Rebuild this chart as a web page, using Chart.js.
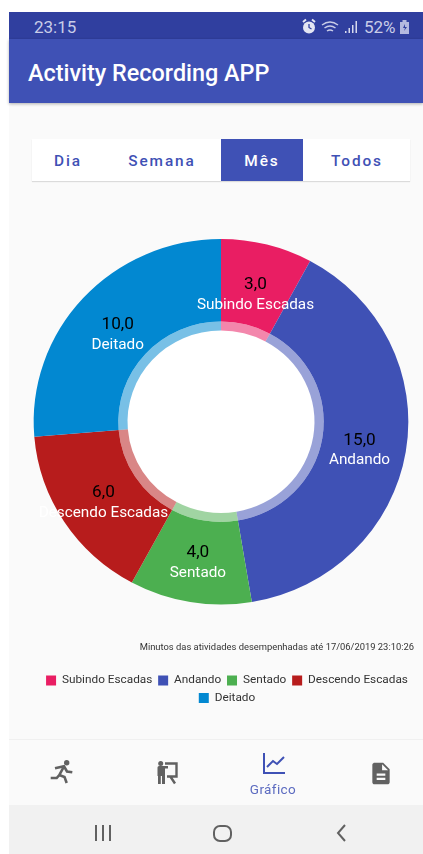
<!DOCTYPE html>
<html lang="pt">
  <head>
    <meta charset="UTF-8" />
    <title>Activity Recording APP</title>
    <script src="https://cdn.jsdelivr.net/npm/chart.js@4/dist/chart.umd.min.js"></script>
    <style>
      * { box-sizing: border-box; }
      html, body { margin: 0; height: 100%; background: #fff; overflow: hidden; font-family: Roboto, sans-serif; }
      .abs { position: absolute; }
      #frame { position: absolute; left: 9px; top: 12px; width: 414px; height: 842px; background: #fafafa; }
      #status { left: 9px; top: 12px; width: 414px; height: 27px; background: #303f9f; }
      #appbar { left: 9px; top: 39px; width: 414px; height: 64px; background: #3f51b5; box-shadow: 0 1px 3px rgba(0,0,0,.3); }
      #apptitle { left: 28px; top: 58px; color: #fff; font-size: 23.4px; font-weight: 500; line-height: 30px; white-space: nowrap; }
      .stat { top: 16px; color: #c9cde8; font-size: 17px; line-height: 22px; white-space: nowrap; }
      #tabs { left: 32px; top: 139px; width: 378px; height: 42px; background: #fff; box-shadow: 0 1px 1px rgba(0,0,0,.12); }
      #tabsel { left: 221px; top: 139px; width: 82px; height: 42px; background: #3f51b5; }
      .tab { top: 151px; width: 90px; text-align: center; color: #3f51b5; font-size: 15.4px; font-weight: 500; letter-spacing: 1.9px; line-height: 20px; }
      #chart { position: absolute; left: 9px; top: 239px; }
      #bottomnav { left: 9px; top: 739px; width: 414px; height: 66px; background: #fafafa; border-top: 1px solid #f0f0f0; }
      #grafico { left: 233px; top: 780px; width: 80px; text-align: center; color: #5c6bc0; font-size: 13.5px; letter-spacing: .4px; line-height: 18px; }
      #sysnav { left: 9px; top: 805px; width: 414px; height: 49px; background: #f1f1f1; }
      svg { position: absolute; overflow: visible; }
    </style>
  </head>
  <body>
    <div id="frame"></div>
    <div class="abs" id="status"></div>
    <div class="abs" id="appbar"></div>
    <div class="abs" id="apptitle">Activity Recording APP</div>
    <div class="abs stat" style="left:34px">23:15</div>
    <div class="abs stat" style="left:364px">52%</div>

    <!-- status bar icons -->
    <svg style="left:300px;top:18px" width="64" height="18" viewBox="0 0 64 18">
      <circle cx="9" cy="9.500" r="6" fill="#e3e5f3"/>
      <path d="M3 4l3-2.500M15 4l-3-2.500" stroke="#e3e5f3" stroke-width="2"/>
      <path d="M9 6v3.500l2.500 1.500" stroke="#303f9f" stroke-width="1.300" fill="none"/>
      <path d="M22 7q8-6 16 0M24.500 10q5.500-4 11 0M27 13q3-2 6 0" stroke="#c9cde8" stroke-width="1.500" fill="none"/>
      <path d="M45 13h1.500v2H45zM48.500 10H50v5h-1.500zM52 7h1.500v8H52zM55.500 3H57v12h-1.500z" fill="#d7daee"/>
    </svg>
    <svg style="left:399px;top:20px" width="11" height="15" viewBox="0 0 11 15">
      <rect x="3.500" y="0" width="4" height="2" fill="#b4b9df"/>
      <rect x="1" y="2" width="9" height="12" fill="#b4b9df"/>
      <path d="M6 4L4 8h2l-1 3 3-4H6z" fill="#303f9f"/>
    </svg>

    <div class="abs" id="tabs"></div>
    <div class="abs" id="tabsel"></div>
    <div class="abs tab" style="left:23px">Dia</div>
    <div class="abs tab" style="left:117px">Semana</div>
    <div class="abs tab" style="left:217px;color:#fff">Mês</div>
    <div class="abs tab" style="left:312px">Todos</div>

    <canvas id="chart" width="414" height="475" style="width:414px;height:475px"></canvas>

    <div class="abs" id="bottomnav"></div>
    <!-- bottom navigation icons -->
    <svg style="left:0;top:0" width="423" height="854" fill="none" stroke="#616161" stroke-width="2.600">
      <circle cx="66.700" cy="762.700" r="2.700" fill="#616161" stroke="none"/>
      <path d="M72.300 772.300L67 771.500L64 766.300L55 768.300"/>
      <path d="M64 766.300L59.300 775L56.700 778H50.700"/>
      <path d="M59.300 775L64.500 777L66.700 783"/>
    </svg>
    <svg style="left:157px;top:761px" width="23" height="24" viewBox="0 0 23 24" fill="#616161">
      <circle cx="3.700" cy="2.500" r="2.500"/>
      <path d="M.5 6.500q0-1.500 1.500-1.500h9v2.500H8V23H5v-8H3.800v8H1v-8H.5z"/>
      <path d="M8 2.500h11.500v13H10M13 15l5 7.500" fill="none" stroke="#616161" stroke-width="2.400"/>
    </svg>
    <svg style="left:263px;top:753px" width="23" height="22" viewBox="0 0 23 22" fill="none" stroke="#3f51b5" stroke-width="2">
      <path d="M1 0v20h21"/>
      <path d="M4 14l6-6 4 3 7-7"/>
    </svg>
    <svg style="left:368px;top:760px" width="26" height="27" viewBox="0 0 24 24" fill="#616161">
      <path d="M14 2H6c-1.100 0-1.990.9-1.990 2L4 20c0 1.100.89 2 1.990 2H18c1.100 0 2-.9 2-2V8l-6-6zm2 16H8v-2h8v2zm0-4H8v-2h8v2zm-3-5V3.500L18.500 9H13z"/>
    </svg>
    <div class="abs" id="grafico">Gráfico</div>

    <div class="abs" id="sysnav"></div>
    <svg style="left:90px;top:822px" width="270" height="24" viewBox="0 0 270 24" fill="none" stroke="#616161" stroke-width="2">
      <path d="M6 3v16M13 3v16M20 3v16"/>
      <rect x="124" y="4" width="17" height="15" rx="6"/>
      <path d="M255 3l-7 8 7 8"/>
    </svg>

    <script>
      const categories = ["Subindo Escadas", "Andando", "Sentado", "Descendo Escadas", "Deitado"];
      const minutes = [3, 15, 4, 6, 10];
      const sliceColors = ["#e91e63", "#3f51b5", "#4caf50", "#b71c1c", "#0288d1"];
      const ringColors = ["#e91e6388", "#3f51b588", "#4caf5088", "#b71c1c88", "#0288d188"];
      const caption = "Minutos das atividades desempenhadas até 17/06/2019 23:10:26";

      // the ring is a little wider than it is tall
      const stretchX = 1.025;

      function applyStretch(chart, ctx) {
        const meta = chart.getDatasetMeta(0).data[0];
        ctx.translate(meta.x, meta.y);
        ctx.scale(stretchX, 1);
        ctx.translate(-meta.x, -meta.y);
      }

      const ringPlugin = {
        id: "ring",
        afterLayout(chart) {
          // legend sits slightly right of the ring centre
          chart.legend.left += 6;
          chart.legend.right += 6;
        },
        beforeDatasetsDraw(chart) {
          const ctx = chart.ctx;
          const arc = chart.getDatasetMeta(1).data[0];
          ctx.save();
          applyStretch(chart, ctx);
          ctx.fillStyle = "#fff";
          ctx.beginPath();
          ctx.arc(arc.x, arc.y, arc.outerRadius, 0, Math.PI * 2);
          ctx.fill();
        },
        afterDatasetsDraw(chart) {
          const ctx = chart.ctx;
          ctx.restore();

          // value and name in the middle of each slice
          const outer = chart.getDatasetMeta(0).data;
          const hole = chart.getDatasetMeta(1).data[0].innerRadius;
          ctx.save();
          ctx.textAlign = "center";
          ctx.textBaseline = "middle";
          outer.forEach((arc, i) => {
            const mid = (arc.startAngle + arc.endAngle) / 2;
            const r = (hole + arc.outerRadius) / 2;
            const x = arc.x + Math.cos(mid) * r * stretchX;
            const y = arc.y + Math.sin(mid) * r;
            ctx.font = "17.2px Roboto";
            ctx.fillStyle = "#000";
            ctx.fillText(minutes[i].toFixed(1).replace(".", ","), x, y - 4);
            ctx.font = "15.3px Roboto";
            ctx.fillStyle = "#fff";
            ctx.fillText(categories[i], x, y + 16);
          });
          ctx.restore();
        }
      };

      new Chart(document.getElementById("chart"), {
        type: "doughnut",
        data: {
          labels: categories,
          datasets: [
            { data: minutes, backgroundColor: sliceColors, borderWidth: 0, weight: 82.5 },
            { data: minutes, backgroundColor: ringColors, borderWidth: 0, weight: 9 }
          ]
        },
        options: {
          responsive: false,
          animation: false,
          cutout: "49.9%",
          layout: { padding: { left: 19, right: 9, top: 0, bottom: 0 } },
          plugins: {
            tooltip: { enabled: false },
            title: {
              display: true,
              text: caption,
              position: "bottom",
              align: "end",
              weight: 500,
              color: "#333",
              font: { family: "Roboto", size: 9.4, weight: "normal" },
              padding: { top: 37, bottom: 16 }
            },
            legend: {
              position: "bottom",
              labels: {
                boxWidth: 10,
                boxHeight: 10,
                padding: 5.8,
                color: "#333",
                font: { family: "Roboto", size: 11.8 }
              }
            }
          }
        },
        plugins: [ringPlugin]
      });
    </script>
  </body>
</html>
